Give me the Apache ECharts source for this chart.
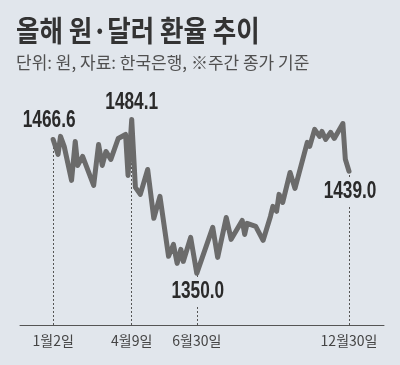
<!DOCTYPE html>
<html><head><meta charset="utf-8">
<script src="https://cdn.jsdelivr.net/npm/echarts@6/dist/echarts.min.js"></script>
<style>html,body{margin:0;padding:0;background:#e1e6ec}#c{width:400px;height:365px}</style>
</head><body><div id="c"></div>
<script>
const titleText = '올해 원·달러 환율 추이';
const subtitleText = '단위: 원, 자료: 한국은행, ※주간 종가 기준';
// trading-day index (0 = 1월2일) and KRW per USD
const dayIndex = [0,1,4,6,9,15,18,20,24,33,37,40,43,47,53,59,61,64,67,71,77,82,87,94,98,101,104,106,112,117,130,134,141,145,154,156,158,165,171,177,179,182,184,187,193,197,207,209,213,217,219,222,226,229,236,238,241];
const rates = [1466.6,1467.5,1453.6,1469.3,1460.6,1431.0,1464.9,1444.0,1451.9,1426.6,1462.3,1444.0,1456.2,1449.3,1467.5,1471.0,1435.3,1484.1,1424.9,1418.8,1440.5,1397.9,1417.0,1364.8,1375.2,1358.7,1370.9,1360.4,1381.3,1350.0,1390.0,1363.9,1398.7,1379.6,1396.1,1383.9,1393.5,1390.9,1378.7,1399.6,1408.3,1404.0,1418.8,1411.8,1437.9,1424.0,1464.1,1460.6,1475.4,1469.3,1473.6,1466.7,1472.8,1467.5,1480.5,1449.3,1439.0];
const markIndex = [0, 64, 117, 241];
const markText = ['1월2일', '4월9일', '6월30일', '12월30일'];
const markValue = [1466.6, 1484.1, 1350.0, 1439.0];

const yMin = 1305, yMax = 1501;
const bg = '#e1e6ec';

const chart = echarts.init(document.getElementById('c'), null, {renderer: 'canvas'});
const baseGraphic = [
  {type: 'text', x: 16, y: 16, scaleX: 0.88,
   style: {text: titleText, font: "bold 29px 'Noto Sans CJK KR'", fill: '#333333'}},
  {type: 'text', x: 16, y: 54,
   style: {text: subtitleText, font: "17px 'Noto Sans CJK KR'", fill: '#505050'}}
];
chart.setOption({
  backgroundColor: bg,
  animation: false,
  graphic: baseGraphic,
  grid: {left: 20, right: 16, top: 100, bottom: 40},
  xAxis: {
    type: 'value', min: -27, max: 269.5,
    axisLine: {onZero: false, lineStyle: {color: '#555555', width: 1}},
    axisTick: {show: false},
    splitLine: {show: false},
    axisLabel: {
      customValues: markIndex,
      formatter: v => markText[markIndex.indexOf(v)] || '',
      margin: 9, fontSize: 14, color: '#444444', fontFamily: "'Noto Sans CJK KR'"
    }
  },
  yAxis: {type: 'value', min: yMin, max: yMax, show: false},
  series: [
    {
      type: 'lines', coordinateSystem: 'cartesian2d', z: 1, silent: true,
      lineStyle: {color: '#555555', width: 1, type: [2, 2], opacity: 1},
      data: markIndex.map((d, i) => ({coords: [[d, yMin], [d, markValue[i]]]}))
    },
    {
      type: 'line', z: 2, showSymbol: false, silent: true,
      lineStyle: {color: '#6b6b6b', width: 5, join: 'round', cap: 'round'},
      data: dayIndex.map((d, i) => [d, rates[i]])
    }
  ]
});

// value labels placed through the chart's own scales
const labelShift = [[-4, -19], [0, -17], [1, 18], [1, 20]];
const labels = markIndex.map((d, i) => {
  const p = chart.convertToPixel({gridIndex: 0}, [d, markValue[i]]);
  const under = labelShift[i][1] > 0;
  return {
    type: 'text', x: p[0] + labelShift[i][0], y: p[1] + labelShift[i][1], scaleX: 0.75, z: 10,
    style: {
      text: markValue[i].toFixed(1), font: "bold 23px 'Liberation Sans'", fill: '#2a2a2a',
      textAlign: 'center', textVerticalAlign: 'middle',
      backgroundColor: under ? bg : null, padding: under ? [4, 2, 1, 2] : 0
    }
  };
});
chart.setOption({graphic: baseGraphic.concat(labels)});
</script></body></html>
